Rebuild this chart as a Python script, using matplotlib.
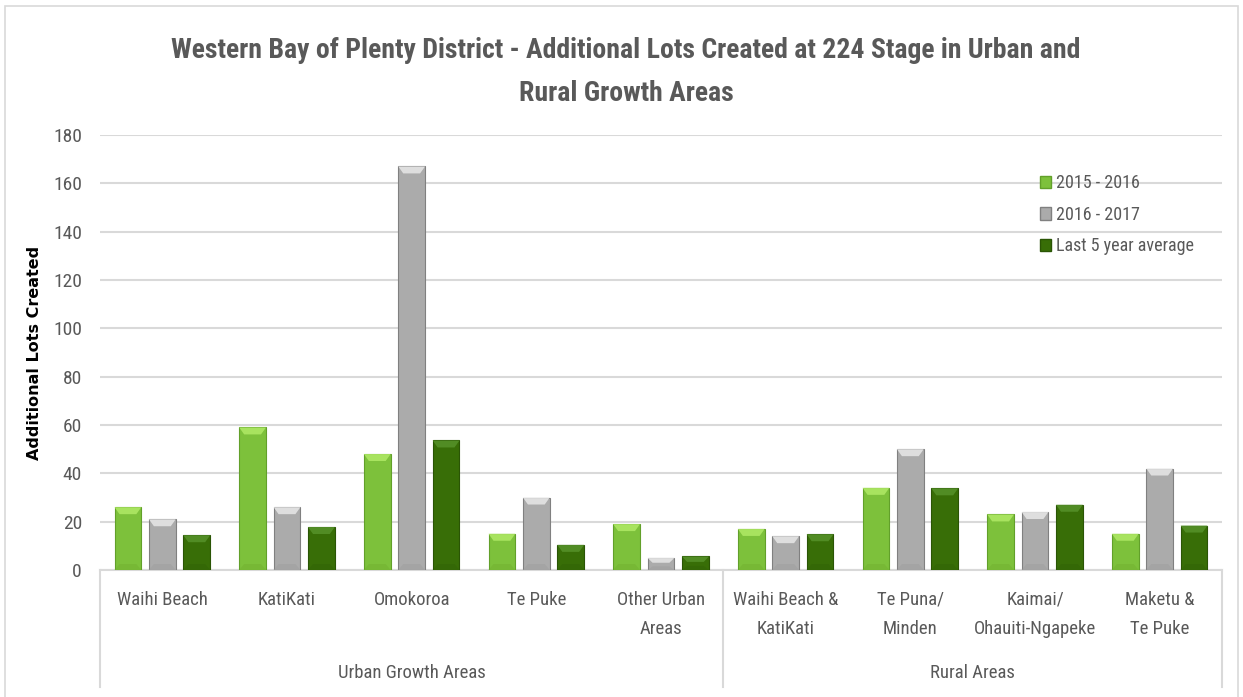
import matplotlib
matplotlib.use("Agg")
import matplotlib.pyplot as plt
from matplotlib import font_manager
from matplotlib.patches import Polygon, Rectangle, Patch
import numpy as np

# ---------------- data ----------------
categories = ["Waihi Beach", "KatiKati", "Omokoroa", "Te Puke", "Other Urban\nAreas",
              "Waihi Beach &\nKatiKati", "Te Puna/\nMinden", "Kaimai/\nOhauiti-Ngapeke", "Maketu &\nTe Puke"]
groups = ["Urban Growth Areas", "Rural Areas"]
group_sizes = [5, 4]
series_names = ["2015 - 2016", "2016 - 2017", "Last 5 year average"]
s2015_16 = [26, 59, 48, 15, 19, 17, 34, 23, 15]
s2016_17 = [21, 26, 167, 30, 5, 14, 50, 24, 42]
s_avg5 = [14.4, 17.8, 53.6, 10.4, 5.6, 14.8, 33.8, 27, 18.4]
yticks = [0, 20, 40, 60, 80, 100, 120, 140, 160, 180]
title = "Western Bay of Plenty District - Additional Lots Created at 224 Stage in Urban and\nRural Growth Areas"
ylabel = "Additional Lots Created"

# ---------------- fonts ----------------
avail = {f.name for f in font_manager.fontManager.ttflist}
narrow = "DejaVu Sans"
for cand in ["Liberation Sans Narrow", "Roboto Condensed", "Open Sans Condensed", "Liberation Sans"]:
    if cand in avail:
        narrow = cand
        break

W, H, DPI = 1243, 697, 100
fig = plt.figure(figsize=(W / DPI, H / DPI), dpi=DPI)
fig.patch.set_facecolor("white")

def fx(px):
    return px / W

def fy(py):
    return 1 - py / H

ax_l, ax_r, ax_t, ax_b = 100, 1222, 135, 570
ax = fig.add_axes([fx(ax_l), fy(ax_b), fx(ax_r - ax_l), (ax_b - ax_t) / H])

# outer chart border
fig.patches.append(Rectangle((fx(5), fy(720)), fx(1233), (720 - 6) / H, transform=fig.transFigure,
                             fill=False, edgecolor="#d9d9d9", linewidth=1.2))

x = np.arange(len(categories))
bw = 0.215
step = 0.276
styles = [
    dict(face="#7dc13b", top="#b0ea66", bot="#73b332", edge="#62a02a"),
    dict(face="#ababab", top="#e8e8e8", bot="#a0a0a0", edge="#808080"),
    dict(face="#386e07", top="#56922a", bot="#326406", edge="#2a5505"),
]
all_series = [s2015_16, s2016_17, s_avg5]

ax.set_xlim(-0.5, len(categories) - 0.5)
ax.set_ylim(0, 180)
px_per_unit = (ax_b - ax_t) / 180.0
px_per_cat = (ax_r - ax_l) / len(categories)

for k, (vals, st) in enumerate(zip(all_series, styles)):
    bars = ax.bar(x + (k - 1) * step, vals, width=bw, color=st["face"], edgecolor=st["edge"],
                  linewidth=0.8, zorder=3)
    for rect in bars:
        bx, bwid, bh = rect.get_x(), rect.get_width(), rect.get_height()
        dy = min(7 / px_per_unit, bh * 0.4)
        dx = 5 / px_per_cat
        ax.add_patch(Polygon([(bx, bh), (bx + bwid, bh), (bx + bwid - dx, bh - dy), (bx + dx, bh - dy)],
                             closed=True, facecolor=st["top"], edgecolor="none", zorder=4, alpha=0.85))
        dyb = min(6 / px_per_unit, bh * 0.3)
        ax.add_patch(Polygon([(bx, 0), (bx + bwid, 0), (bx + bwid - dx, dyb), (bx + dx, dyb)],
                             closed=True, facecolor=st["bot"], edgecolor="none", zorder=4, alpha=0.6))

# grid and axes styling
ax.set_yticks(yticks)
ax.yaxis.grid(True, color="#d9d9d9", linewidth=1.5, zorder=0)
ax.set_axisbelow(True)
for s in ["top", "right", "left"]:
    ax.spines[s].set_visible(False)
ax.spines["bottom"].set_color("#d9d9d9")
ax.spines["bottom"].set_linewidth(1.5)
ax.tick_params(axis="y", length=0, pad=13, labelsize=14, labelcolor="#595959")
for lab in ax.get_yticklabels():
    lab.set_fontfamily(narrow)
ax.set_xticks([])

ax.set_ylabel(ylabel, fontsize=11.5, fontweight="bold", color="black", family="DejaVu Sans")
ax.yaxis.set_label_coords(-(ax_l - 42) / (ax_r - ax_l), 0.5)

# multi-level category axis
trans = ax.get_xaxis_transform()
bottom_ax = -(687 - ax_b) / (ax_b - ax_t)
bounds = [-0.5]
for g in group_sizes:
    bounds.append(bounds[-1] + g)
for b in bounds:
    ax.plot([b, b], [0, bottom_ax], transform=trans, color="#d9d9d9", linewidth=1.5, clip_on=False)
for i, c in enumerate(categories):
    ax.text(i, -(591 - ax_b) / (ax_b - ax_t), c, transform=trans, ha="center", va="top",
            fontsize=13.5, color="#595959", family=narrow, linespacing=1.8)
for gi, gname in enumerate(groups):
    ax.text((bounds[gi] + bounds[gi + 1]) / 2, -(673 - ax_b) / (ax_b - ax_t), gname, transform=trans,
            ha="center", va="center", fontsize=13.5, color="#595959", family=narrow)

# legend
handles = [Patch(facecolor=st["face"], edgecolor=st["edge"]) for st in styles]
leg = fig.legend(handles, series_names, loc="upper left", bbox_to_anchor=(fx(1024), fy(158)),
                 frameon=False, handlelength=0.6, handleheight=0.7, handletextpad=0.25,
                 labelspacing=0.75, prop={"family": narrow, "size": 13})
for t in leg.get_texts():
    t.set_color("#595959")

fig.text(fx(626), fy(72), title, ha="center", va="center", fontsize=20, fontweight="bold",
         color="#595959", family=narrow, linespacing=1.75)

fig.savefig("out.png", dpi=DPI)
